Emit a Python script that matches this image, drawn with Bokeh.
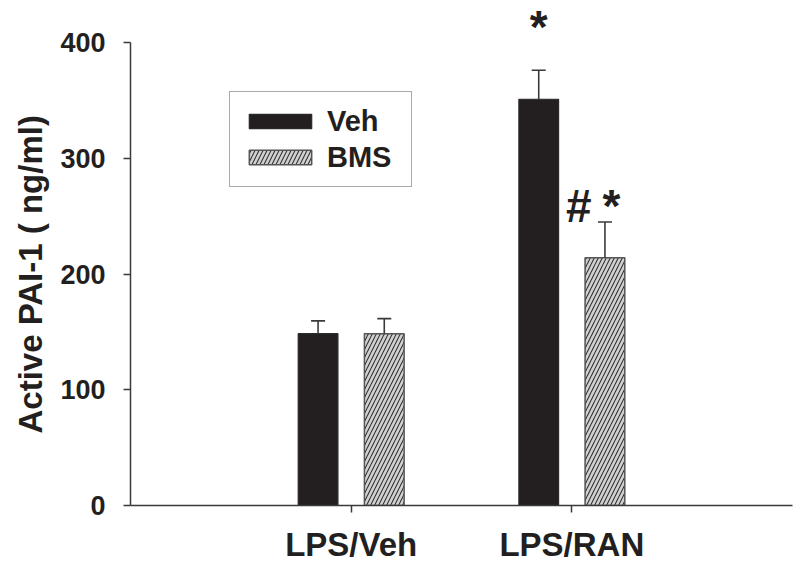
from bokeh.plotting import figure
from bokeh.models import (FixedTicker, Whisker, TeeHead, ColumnDataSource, Legend,
                          LegendItem, Label, Range1d, Title)
from bokeh.embed import file_html
from bokeh.resources import INLINE

# ---- data ----
groups = ["LPS/Veh", "LPS/RAN"]
group_pos = [1, 2]
series = ["Veh", "BMS"]
veh_mean = [148.5, 351]
veh_err = [11, 25]
bms_mean = [148.5, 214]
bms_err = [13, 31]
y_ticks = [0, 100, 200, 300, 400]
y_title = "Active PAI-1 ( ng/ml)"

FONT = "Liberation Sans"
TXT = "#231f20"
AX = "#3a3a3a"
OFF = 0.15
BW = 0.18

p = figure(width=800, height=568, output_backend="svg", toolbar_location=None,
           x_range=Range1d(0, 3), y_range=Range1d(0, 432),
           min_border_left=130, min_border_right=8, min_border_top=5, min_border_bottom=63)
p.outline_line_color = None
p.xgrid.visible = False
p.ygrid.visible = False

veh_x = [g - OFF for g in group_pos]
bms_x = [g + OFF for g in group_pos]

r_veh = p.vbar(x=veh_x, top=veh_mean, width=BW, bottom=0,
               fill_color="#231f20", line_color="#2a2a2a", line_width=1.2)
r_bms = p.vbar(x=bms_x, top=bms_mean, width=BW, bottom=0,
               fill_color="#d2d2d2", line_color="#555555", line_width=1.5,
               hatch_pattern="/", hatch_color="#333333", hatch_scale=8, hatch_weight=1.1)

err_src = ColumnDataSource(dict(
    x=veh_x + bms_x,
    lower=veh_mean + bms_mean,
    upper=[m + e for m, e in zip(veh_mean, veh_err)] + [m + e for m, e in zip(bms_mean, bms_err)],
))
wh = Whisker(base="x", lower="lower", upper="upper", source=err_src,
             lower_head=None, upper_head=TeeHead(size=14, line_color=AX, line_width=1.6),
             line_color=AX, line_width=1.6, level="overlay")
p.add_layout(wh)

# significance marks
top_veh2 = veh_mean[1] + veh_err[1]
top_bms2 = bms_mean[1] + bms_err[1]
marks = [
    ("*", veh_x[1], top_veh2 + 37),
    ("#", group_pos[1] + 0.032, top_bms2 + 14),
    ("*", group_pos[1] + 0.18, top_bms2 + 14),
]
for t, x, y in marks:
    p.add_layout(Label(x=x, y=y, text=t, text_align="center", text_baseline="alphabetic",
                       text_font=FONT, text_font_style="bold", text_font_size="46px",
                       text_color=TXT))

# axes
p.yaxis.bounds = (y_ticks[0], y_ticks[-1])
p.yaxis.ticker = FixedTicker(ticks=y_ticks)
p.yaxis.minor_tick_line_color = None
p.yaxis.major_tick_out = 7
p.yaxis.major_tick_in = 0
p.yaxis.axis_line_color = AX
p.yaxis.axis_line_width = 1.5
p.yaxis.major_tick_line_color = AX
p.yaxis.major_tick_line_width = 1.5
p.yaxis.major_label_text_font = FONT
p.yaxis.major_label_text_font_style = "bold"
p.yaxis.major_label_text_font_size = "27px"
p.yaxis.major_label_text_color = TXT
p.yaxis.major_label_standoff = 18

# y-axis title placed along the 0-400 axis span (frame extends higher for the marks)
p.add_layout(Title(text=y_title, align="left", offset=72, standoff=18,
                   text_font=FONT, text_font_style="bold", text_font_size="33px",
                   text_color=TXT), "left")

p.xaxis.ticker = FixedTicker(ticks=group_pos)
p.xaxis.major_label_overrides = {g: lab for g, lab in zip(group_pos, groups)}
p.xaxis.minor_tick_line_color = None
p.xaxis.major_tick_out = 7
p.xaxis.major_tick_in = 0
p.xaxis.axis_line_color = AX
p.xaxis.axis_line_width = 1.5
p.xaxis.major_tick_line_color = AX
p.xaxis.major_tick_line_width = 1.5
p.xaxis.major_label_text_font = FONT
p.xaxis.major_label_text_font_style = "bold"
p.xaxis.major_label_text_font_size = "33px"
p.xaxis.major_label_text_color = TXT
p.xaxis.major_label_standoff = 13

legend = Legend(items=[LegendItem(label=series[0], renderers=[r_veh]),
                       LegendItem(label=series[1], renderers=[r_bms])],
                location=(99, 318), orientation="vertical",
                border_line_color="#555555", border_line_width=1.5,
                background_fill_color="white", background_fill_alpha=1.0,
                label_text_font=FONT, label_text_font_style="bold",
                label_text_font_size="29px", label_text_color=TXT,
                glyph_width=78, glyph_height=18, label_height=36, label_width=73,
                label_standoff=8, padding=11, spacing=0, margin=0)
p.add_layout(legend)

open("out.html", "w").write(file_html(p, INLINE))
